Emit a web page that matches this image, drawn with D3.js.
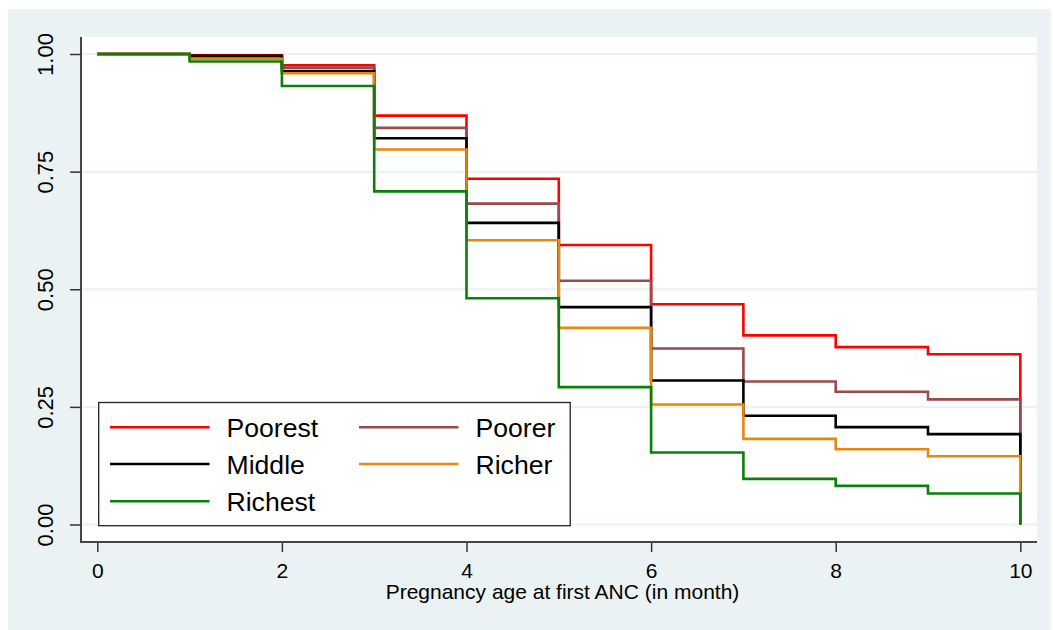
<!DOCTYPE html>
<html><head><meta charset="utf-8">
<script src="https://cdn.jsdelivr.net/npm/d3@7"></script>
<style>html,body{margin:0;padding:0;background:#fff;} text{font-family:"Liberation Sans",Arial,sans-serif;}</style>
</head><body><svg id="c" width="1053" height="630"></svg>
<script>
const months = [0,1,2,3,4,5,6,7,8,9];
const seriesNames = ["Poorest","Poorer","Middle","Richer","Richest"];
const poorest = [1, 0.997, 0.976, 0.869, 0.735, 0.594, 0.468, 0.402, 0.377, 0.362];
const poorer  = [1, 0.995, 0.971, 0.843, 0.682, 0.518, 0.374, 0.304, 0.282, 0.266];
const middle  = [1, 0.996, 0.964, 0.821, 0.641, 0.462, 0.306, 0.231, 0.207, 0.192];
const richer  = [1, 0.990, 0.959, 0.797, 0.604, 0.418, 0.255, 0.182, 0.160, 0.145];
const richest = [1, 0.984, 0.932, 0.708, 0.481, 0.292, 0.153, 0.097, 0.082, 0.066];
const endMonth = 10;
const xTicks = [0,2,4,6,8,10];
const yTicks = [0,0.25,0.5,0.75,1];
const yTickLabels = ["0.00","0.25","0.50","0.75","1.00"];
const colors = ["#ff0000","#9b4a4c","#000000","#e8870e","#0a800a"];
const allSeries = [poorest, poorer, middle, richer, richest];

const svg = d3.select("#c");
svg.append("rect").attr("x",8).attr("y",9).attr("width",1043).attr("height",621).attr("fill","#eaf2f3");
const pl = 81, pr = 1037, pt = 37, pb = 542;
svg.append("rect").attr("x",pl).attr("y",pt).attr("width",pr-pl).attr("height",pb-pt).attr("fill","#fff");

const x = d3.scaleLinear().domain([0,10]).range([97.3,1020.3]);
const y = d3.scaleLinear().domain([0,1]).range([524.5,54]);

// gridlines
svg.append("g").selectAll("line").data(yTicks).join("line")
  .attr("x1",pl).attr("x2",pr).attr("y1",d=>y(d)).attr("y2",d=>y(d))
  .attr("stroke","#eaf2f3").attr("stroke-width",2);

// series
const line = d3.line().x(d=>x(d[0])).y(d=>y(d[1])).curve(d3.curveStepAfter);
allSeries.forEach((vals,i)=>{
  const pts = months.map((m,j)=>[m, vals[j]]);
  pts.push([endMonth, 0]);
  svg.append("path").attr("d", line(pts)).attr("fill","none")
    .attr("stroke", colors[i]).attr("stroke-width",2.6).attr("stroke-linejoin","miter");
});

// axes
const yAxis = d3.axisLeft(y).tickValues(yTicks).tickFormat((d,i)=>yTickLabels[i]).tickSize(11).tickPadding(0);
const gy = svg.append("g").attr("transform",`translate(${pl},0)`).call(yAxis);
gy.select(".domain").remove();
gy.selectAll(".tick line").attr("stroke","#333").attr("stroke-width",1.5);
gy.selectAll(".tick text").remove();
gy.selectAll(".tick").append("text")
  .attr("transform","translate(-36,0) rotate(-90)")
  .attr("text-anchor","middle").attr("dy","0.36em")
  .attr("fill","#000").attr("font-size",22).text((d,i)=>yTickLabels[i]);

const xAxis = d3.axisBottom(x).tickValues(xTicks).tickSize(10).tickFormat(d3.format("d"));
const gx = svg.append("g").attr("transform",`translate(0,${pb})`).call(xAxis);
gx.select(".domain").remove();
gx.selectAll(".tick line").attr("stroke","#333").attr("stroke-width",1.5);
gx.selectAll(".tick text").attr("y",28).attr("dy","0.36em").attr("fill","#000")
  .attr("font-size",21).attr("font-family","Liberation Sans, Arial, sans-serif");

svg.append("line").attr("x1",pl).attr("x2",pl).attr("y1",pt).attr("y2",pb+1).attr("stroke","#444").attr("stroke-width",2);
svg.append("line").attr("x1",pl).attr("x2",pr).attr("y1",pb).attr("y2",pb).attr("stroke","#444").attr("stroke-width",2);

svg.append("text").attr("x",562.5).attr("y",599).attr("text-anchor","middle")
  .attr("font-size",21).attr("fill","#000").text("Pregnancy age at first ANC (in month)");

// legend
const lg = svg.append("g");
lg.append("rect").attr("x",98.7).attr("y",402.5).attr("width",471.5).attr("height",123.2)
  .attr("fill","#fff").attr("stroke","#222").attr("stroke-width",1.3);
const rowsY = [427.3,464,501.3];
const colX = [110,359];
seriesNames.forEach((n,i)=>{
  const r = Math.floor(i/2), c = i%2;
  const yy = rowsY[r], xx = colX[c];
  lg.append("line").attr("x1",xx).attr("x2",xx+99.5).attr("y1",yy).attr("y2",yy)
    .attr("stroke",colors[i]).attr("stroke-width",2.4);
  lg.append("text").attr("x",xx+116.5).attr("y",yy).attr("dy","0.36em")
    .attr("font-size",26.6).attr("fill","#000").text(n);
});
</script></body></html>
